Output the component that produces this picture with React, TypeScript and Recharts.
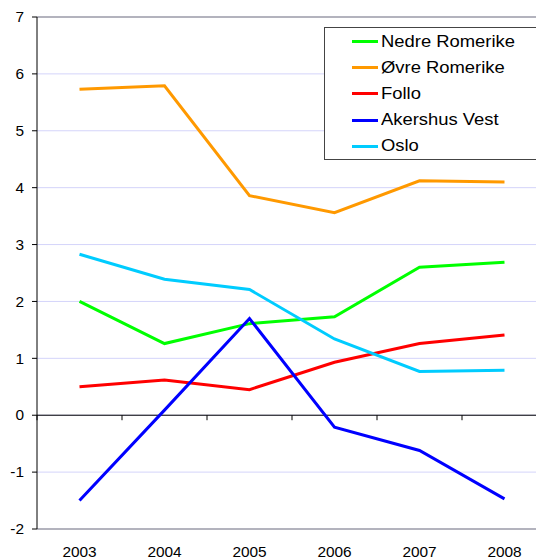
import React from 'react';
import { LineChart, Line, XAxis, YAxis, CartesianGrid, ReferenceLine, Legend } from 'recharts';

const years = ['2003', '2004', '2005', '2006', '2007', '2008'];
const nedreRomerike = [2.0, 1.26, 1.61, 1.73, 2.6, 2.69];
const ovreRomerike = [5.73, 5.79, 3.86, 3.56, 4.12, 4.1];
const follo = [0.5, 0.62, 0.45, 0.93, 1.26, 1.41];
const akershusVest = [-1.5, 0.09, 1.7, -0.21, -0.62, -1.47];
const oslo = [2.83, 2.39, 2.21, 1.34, 0.77, 0.79];
const yTicks = [-2, -1, 0, 1, 2, 3, 4, 5, 6, 7];

const seriesNames = ['Nedre Romerike', 'Øvre Romerike', 'Follo', 'Akershus Vest', 'Oslo'];
const seriesValues = [nedreRomerike, ovreRomerike, follo, akershusVest, oslo];
const seriesColors = ['#00ff00', '#ff9900', '#ff0000', '#0000ff', '#00ccff'];
const seriesKeys = ['s0', 's1', 's2', 's3', 's4'];

const data = years.map((year, i) => {
  const row: Record<string, any> = { year };
  seriesKeys.forEach((k, s) => {
    row[k] = seriesValues[s][i];
  });
  return row;
});

const FONT = '"Liberation Sans", Arial, sans-serif';

const XTick = (props: any) => {
  const { x, y, payload } = props;
  return (
    <text
      transform={`translate(${x},${y + 27.5}) scale(1.1,1)`}
      textAnchor="middle"
      fontFamily={FONT}
      fontSize={14}
      fill="#000"
    >
      {payload.value}
    </text>
  );
};

const YTick = (props: any) => {
  const { x, y, payload } = props;
  return (
    <text
      transform={`translate(${x},${y + 5.2}) scale(1.1,1)`}
      textAnchor="end"
      fontFamily={FONT}
      fontSize={14}
      fill="#000"
    >
      {payload.value}
    </text>
  );
};

const ZeroLine = (props: any) => {
  const { x1, y1, x2, y2 } = props;
  const n = years.length;
  const step = (x2 - x1) / n;
  const marks = [];
  for (let k = 0; k <= n; k++) {
    const xx = x1 + k * step;
    marks.push(<line key={k} x1={xx} y1={y1} x2={xx} y2={y1 + 5} stroke="#000" strokeWidth={1} />);
  }
  return (
    <g>
      <line x1={x1} y1={y1} x2={x2} y2={y2} stroke="#000" strokeWidth={1} />
      {marks}
    </g>
  );
};

const LegendBox = () => (
  <div
    style={{
      position: 'relative',
      width: 240,
      height: 133,
      border: '1px solid #444',
      background: '#fff',
      boxSizing: 'border-box',
      fontFamily: FONT,
    }}
  >
    {seriesNames.map((name, i) => (
      <div
        key={name}
        style={{ position: 'absolute', left: 0, top: 13.5 + i * 26.2 - 13, height: 26, width: 240 }}
      >
        <div
          style={{
            position: 'absolute',
            left: 27,
            top: 11.5,
            width: 26,
            height: 3,
            background: seriesColors[i],
          }}
        />
        <div
          style={{
            position: 'absolute',
            left: 56,
            top: 0,
            height: 26,
            lineHeight: '26px',
            fontSize: 16,
            color: '#000',
            whiteSpace: 'nowrap',
            transform: 'scaleX(1.15)',
            transformOrigin: '0 0',
          }}
        >
          {name}
        </div>
      </div>
    ))}
  </div>
);

export default function App() {
  return (
    <div
      style={{
        position: 'absolute',
        left: 0,
        top: 0,
        width: 536,
        height: 559,
        overflow: 'hidden',
        background: '#fff',
      }}
    >
      <LineChart
        width={560}
        height={559}
        data={data}
        margin={{ top: 17, right: 13, bottom: 0, left: 0 }}
      >
        <CartesianGrid horizontal vertical={false} stroke="#d4d4fa" strokeWidth={1} />
        <XAxis
          dataKey="year"
          scale="band"
          height={30}
          axisLine={{ stroke: '#a0a0a8', strokeWidth: 1.5 }}
          tickLine={false}
          tickSize={0}
          tickMargin={0}
          tick={<XTick />}
          interval={0}
        />
        <YAxis
          width={37}
          domain={[-2, 7]}
          ticks={yTicks}
          interval={0}
          axisLine={{ stroke: '#000', strokeWidth: 1 }}
          tickLine={{ stroke: '#000', strokeWidth: 1 }}
          tickSize={5}
          tickMargin={8}
          tick={<YTick />}
        />
        <ReferenceLine y={7} stroke="#a0a0a8" strokeWidth={1.5} />
        <ReferenceLine y={0} stroke="#000" shape={<ZeroLine />} />
        {seriesKeys.map((k, s) => (
          <Line
            key={k}
            dataKey={k}
            name={seriesNames[s]}
            stroke={seriesColors[s]}
            strokeWidth={3}
            dot={false}
            activeDot={false}
            isAnimationActive={false}
            type="linear"
          />
        ))}
        <Legend
          layout="vertical"
          align="center"
          verticalAlign="middle"
          content={<LegendBox />}
          wrapperStyle={{ left: 324, top: 27, width: 240, height: 133 }}
        />
      </LineChart>
    </div>
  );
}
